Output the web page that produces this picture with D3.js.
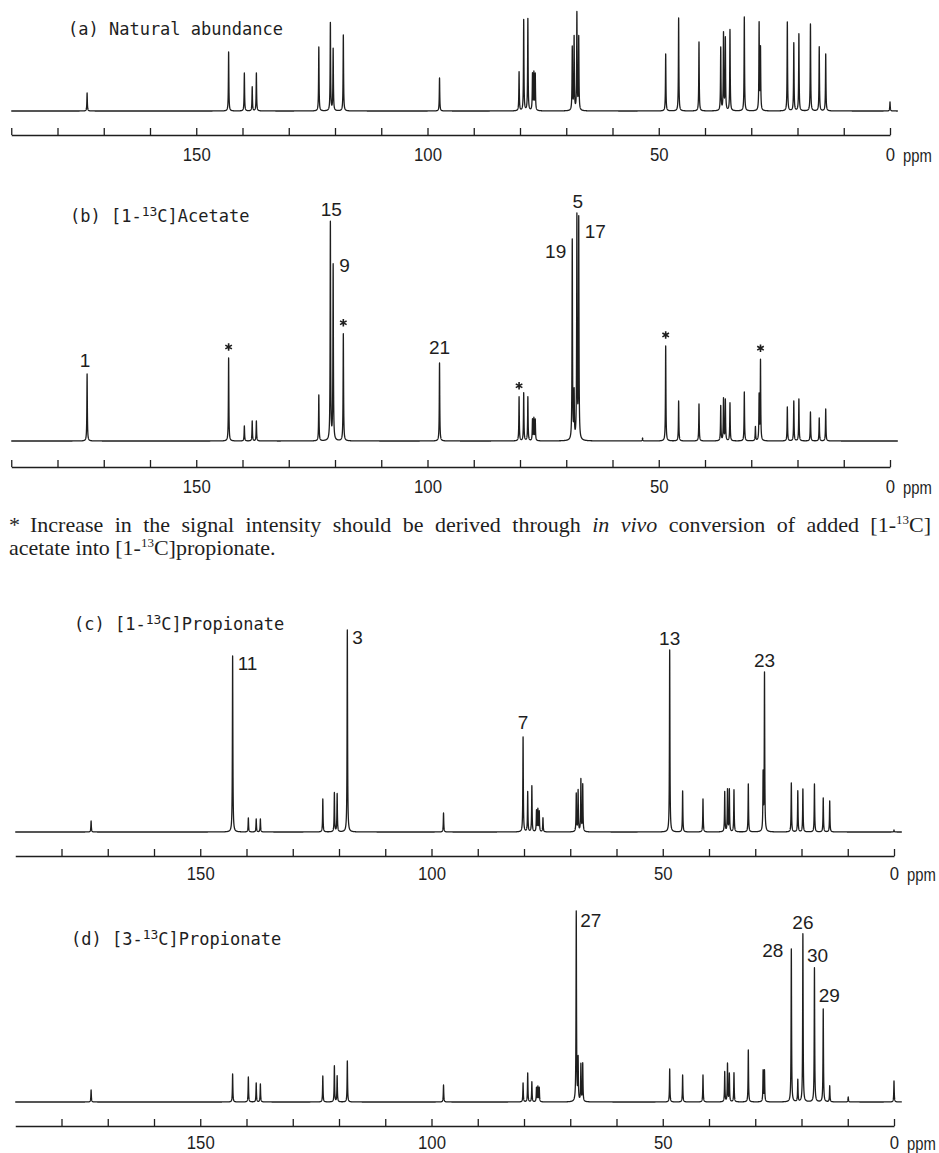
<!DOCTYPE html>
<html>
<head>
<meta charset="utf-8">
<script src="https://cdn.jsdelivr.net/npm/d3@7"></script>
<style>
  body { margin: 0; background: #fff; overflow: hidden; }
  svg { display: block; }
</style>
</head>
<body>
<div id="container"></div>
<script>
let w = 939;
let h = 1153;
let ink = "#1e1e1e";

// chemical shifts (ppm) of every line seen in the four spectra
let shifts = [173.6, 143.0, 139.6, 137.9, 137.0, 123.5, 121.0, 120.4, 118.2, 97.4,
  80.2, 79.2, 78.3, 77.3, 77.0, 76.7, 75.9, 68.7, 68.3, 67.7,
  67.3, 53.5, 48.5, 45.7, 41.3, 36.6, 36.0, 35.6, 34.6, 31.5,
  29.1, 28.3, 28.0, 22.2, 20.8, 19.7, 17.2, 15.3, 13.9, 9.9, 0.0];

// peak heights, same order as shifts
let natural = [18, 59, 38, 24, 38, 64, 88, 62, 76, 33,
  39, 91, 92, 36, 37, 36, 0, 63, 73, 97,
  73, 0, 57, 93, 69, 63, 77, 72, 81, 94,
  0, 87, 62, 89, 68, 77, 87, 64, 57, 0, 9];
let acetate1 = [67, 83, 15, 20, 20, 46, 218, 175, 107, 78,
  44, 48, 44, 21, 22, 21, 0, 200, 46, 222,
  220, 3, 95, 40, 37, 35, 42, 41, 38, 49,
  14, 45, 80, 34, 40, 42, 29, 23, 32, 0, 0];
let propionate1 = [11, 176, 14, 13, 13, 33, 39, 38, 202, 19,
  95, 40, 46, 21, 22, 20, 14, 38, 41, 52,
  47, 0, 182, 41, 33, 40, 42, 42, 42, 48,
  0, 56, 158, 49, 41, 43, 48, 34, 31, 0, 2];
let propionate3 = [12, 28, 25, 19, 18, 26, 36, 26, 41, 17,
  19, 29, 20, 14, 15, 14, 0, 190, 42, 37,
  38, 0, 33, 27, 27, 30, 38, 28, 29, 52,
  0, 31, 31, 153, 22, 168, 134, 93, 16, 5, 21];

// axis ticks
let tickLabels = [150, 100, 50, 0];

// carbon-number labels and starred lines
let labelsB = [["1", 173.6], ["15", 121.0], ["9", 120.4], ["21", 97.4], ["19", 68.7], ["5", 67.7], ["17", 67.3]];
let labelsC = [["11", 143.0], ["3", 118.2], ["7", 80.2], ["13", 48.5], ["23", 28.0]];
let labelsD = [["27", 68.7], ["28", 22.2], ["26", 19.7], ["30", 17.2], ["29", 15.3]];
let starsB = [143.0, 118.2, 80.2, 48.5, 28.0];

let titles = [["(a) Natural abundance"], ["(b) [1-", "13", "C]Acetate"],
  ["(c) [1-", "13", "C]Propionate"], ["(d) [3-", "13", "C]Propionate"]];

// where each label sits relative to its peak top
let place = {
  "1": ["middle", -2, -14], "15": ["middle", 1, -12], "9": ["start", 6, 1], "21": ["middle", 0, -16],
  "19": ["end", -6, 12], "5": ["middle", 1, -12], "17": ["start", 6, 16],
  "11": ["start", 5, 7], "3": ["start", 5, 7], "7": ["middle", 0, -15], "13": ["middle", 0, -12], "23": ["middle", 0, -12],
  "27": ["start", 4, 9], "28": ["end", -8, 1], "26": ["middle", 0, -12], "30": ["middle", 3, -13], "29": ["middle", 6, -14]
};

let panels = [
  {vals: natural, labels: [], stars: [], base: 111, axisY: 135, x0: 890, tx: 68, ty: 35, first: 190, pad: 13},
  {vals: acetate1, labels: labelsB, stars: starsB, base: 441, axisY: 467, x0: 890, tx: 70, ty: 222, first: 190, pad: 13},
  {vals: propionate1, labels: labelsC, stars: [], base: 832, axisY: 856, x0: 894, tx: 74, ty: 630, first: 180, pad: 11},
  {vals: propionate3, labels: labelsD, stars: [], base: 1102, axisY: 1126, x0: 894, tx: 71, ty: 945, first: 180, pad: 10}
];

let viz = d3.select("#container").append("svg")
  .attr("width", w)
  .attr("height", h);

let k = 4.625; // px per ppm
let gam = 0.06; // line half-width, ppm

function intensity(vals, p) {
  let v = 0;
  for (let i = 0; i < shifts.length; i++) {
    if (vals[i] > 0) {
      let d = p - shifts[i];
      v += vals[i] * gam * gam / (gam * gam + d * d);
    }
  }
  return v;
}

function trace(vals) {
  let pts = d3.range(190, -1.7, -0.01);
  shifts.forEach(function (s, i) { if (vals[i] > 0) pts.push(s); });
  pts.sort(function (a, b) { return b - a; });
  return pts.map(function (p) { return [p, intensity(vals, p)]; });
}

panels.forEach(function (p, pi) {
  let g = viz.append("g").attr("class", "panel");
  let x = d3.scaleLinear().domain([190, 0]).range([p.x0 - 190 * k, p.x0]);
  let y = d3.scaleLinear().domain([0, 100]).range([p.base, p.base - 100]);

  // title
  let t = titles[pi];
  let tt = g.append("text").attr("x", p.tx).attr("y", p.ty)
    .attr("font-family", "'DejaVu Sans Mono', monospace").attr("font-size", 17).attr("fill", ink);
  tt.append("tspan").text(t[0]);
  if (t.length > 1) {
    tt.append("tspan").attr("dy", -6).attr("font-size", 13).text(t[1]);
    tt.append("tspan").attr("dy", 6).text(t[2]);
  }

  // spectrum trace
  let line = d3.line().x(function (d) { return x(d[0]); }).y(function (d) { return y(d[1]); });
  g.append("path").datum(trace(p.vals))
    .attr("d", line)
    .attr("fill", "none")
    .attr("stroke", ink)
    .attr("stroke-width", 1.3)
    .attr("stroke-linejoin", "round");

  // ppm axis
  let axis = d3.axisBottom(x)
    .tickValues(d3.range(p.first, -1, -10))
    .tickSizeInner(-7)
    .tickSizeOuter(0)
    .tickPadding(p.pad)
    .tickFormat(function (v) { return tickLabels.includes(v) ? String(v) : ""; });
  let ag = g.append("g").attr("transform", "translate(0," + p.axisY + ")").call(axis);
  ag.select(".domain").attr("stroke", ink).attr("stroke-width", 1.3);
  ag.selectAll(".tick line").attr("stroke", ink).attr("stroke-width", 1.3);
  ag.selectAll(".tick text")
    .attr("font-family", "'Liberation Sans', Arial, sans-serif")
    .attr("font-size", 19)
    .attr("fill", ink)
    .each(function () {
      let s = this.textContent;
      if (s) d3.select(this).attr("textLength", 9.3 * s.length).attr("lengthAdjust", "spacingAndGlyphs");
    });
  g.append("text")
    .attr("transform", "translate(" + (p.x0 + 13) + "," + (p.axisY + p.pad + 13.5) + ") scale(0.78,1)")
    .attr("font-family", "'Liberation Sans', Arial, sans-serif").attr("font-size", 19)
    .attr("fill", ink)
    .text("ppm");

  // carbon-number labels
  g.selectAll(".clabel").data(p.labels).enter().append("text")
    .attr("class", "clabel")
    .attr("x", function (d) { return x(d[1]) + place[d[0]][1]; })
    .attr("y", function (d) { return y(intensity(p.vals, d[1])) + place[d[0]][2]; })
    .attr("dy", "0.36em")
    .attr("text-anchor", function (d) { return place[d[0]][0]; })
    .attr("font-family", "'Liberation Sans', Arial, sans-serif")
    .attr("font-size", 19)
    .attr("fill", ink)
    .text(function (d) { return d[0]; });

  // asterisks over lines fed from acetate-derived propionate
  let star = d3.symbol().type(d3.symbolAsterisk || d3.symbolCross).size(40);
  g.selectAll(".star").data(p.stars).enter().append("path")
    .attr("class", "star")
    .attr("transform", function (d) { return "translate(" + x(d) + "," + (y(intensity(p.vals, d)) - 11) + ")"; })
    .attr("d", star)
    .attr("fill", d3.symbolAsterisk ? "none" : ink)
    .attr("stroke", ink)
    .attr("stroke-width", 1.6);
});

// footnote
let serif = "'Liberation Serif', 'Times New Roman', serif";
viz.append("text").attr("x", 9).attr("y", 532).attr("font-family", serif).attr("font-size", 22).attr("fill", ink).text("*");
let note1 = viz.append("text").attr("x", 30).attr("y", 532)
  .attr("font-family", serif).attr("font-size", 22).attr("fill", ink);
note1.append("tspan").text("Increase in the signal intensity should be derived through ");
note1.append("tspan").attr("font-style", "italic").text("in vivo");
note1.append("tspan").text(" conversion of added [1-");
note1.append("tspan").attr("dy", -8).attr("font-size", 13).text("13");
note1.append("tspan").attr("dy", 8).text("C]");
let natW = note1.node().getComputedTextLength();
let gaps = note1.text().split(" ").length - 1;
note1.attr("word-spacing", Math.max(0, (931 - 30 - natW) / gaps));

let note2 = viz.append("text").attr("x", 9).attr("y", 555)
  .attr("font-family", serif).attr("font-size", 22).attr("fill", ink);
note2.append("tspan").text("acetate into [1-");
note2.append("tspan").attr("dy", -8).attr("font-size", 13).text("13");
note2.append("tspan").attr("dy", 8).text("C]propionate.");
</script>
</body>
</html>
